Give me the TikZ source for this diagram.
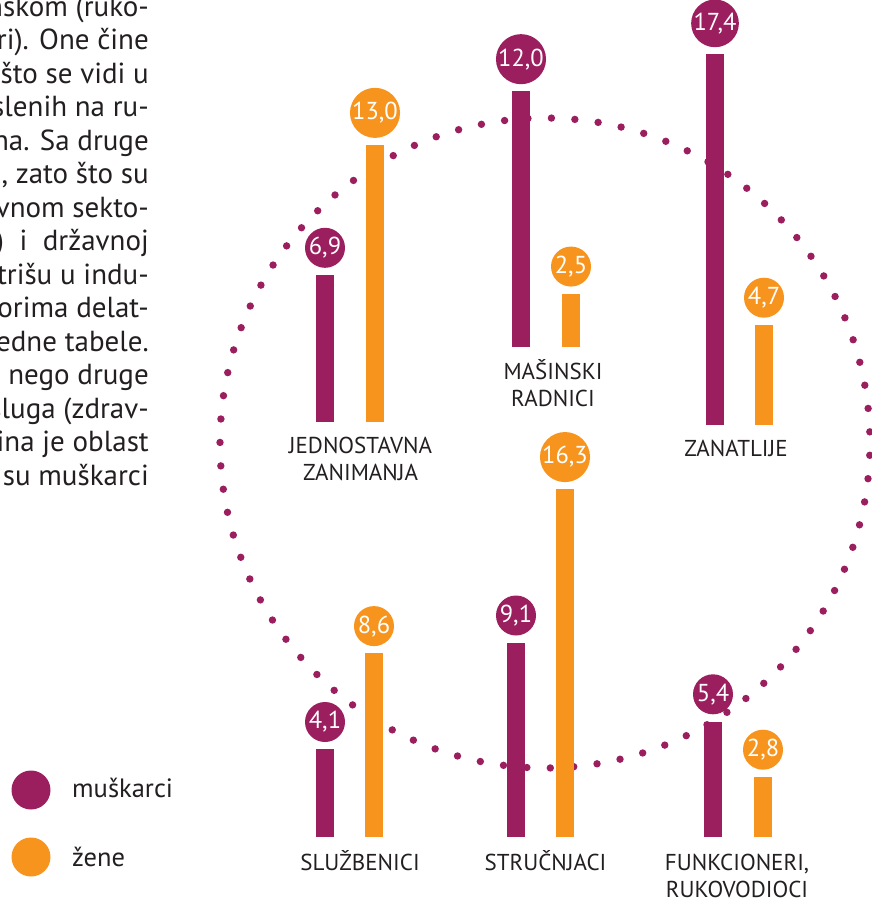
\documentclass[tikz,border=0pt]{standalone}
\usepackage{fontspec}
\setmainfont{PT Sans}
\usetikzlibrary{positioning,calc}
\definecolor{mpurple}{HTML}{9B1E5E}
\definecolor{morange}{HTML}{F7941E}
\definecolor{mtext}{HTML}{231F20}
\begin{document}
\begin{tikzpicture}[x=1pt,y=-1pt,
  mbar/.style={fill=mpurple, draw=none, minimum width=18pt, inner sep=0pt, outer sep=0pt, anchor=south},
  obar/.style={fill=morange, draw=none, minimum width=18pt, inner sep=0pt, outer sep=0pt, anchor=south},
  mval/.style={circle, fill=mpurple, text=white, minimum size=40pt, inner sep=0pt, font=\fontsize{24.5}{24.5}\selectfont},
  oval/.style={circle, fill=morange, text=white, minimum size=40pt, inner sep=0pt, font=\fontsize{24.5}{24.5}\selectfont},
  catlabel/.style={text=mtext, anchor=base, inner sep=0pt, font=\fontsize{23}{27}\selectfont},
  paraline/.style={text=mtext, anchor=base east, inner sep=0pt, font=\fontsize{29}{33.5}\selectfont},
  legdot/.style={circle, minimum size=39pt, inner sep=0pt},
  legtext/.style={text=mtext, anchor=base west, inner sep=0pt, font=\fontsize{26.5}{26.5}\selectfont},
  ringdot/.style={fill=mpurple}
]
\useasboundingbox (0,0) rectangle (872,900);

% paragraph (cut at the left edge)
\node[paraline] (p1) at (149,16) {nskom (ruko-};
\node[paraline] (p2) at (149,49.5) {ri). One čine};
\node[paraline] (p3) at (149,83) {što se vidi u};
\node[paraline] (p4) at (149,116.5) {slenih na ru-};
\node[paraline] (p5) at (149,150) {na. Sa druge};
\node[paraline] (p6) at (149,183.5) {, zato što su};
\node[paraline] (p7) at (149,217) {vnom sekto-};
\node[paraline] (p8) at (149,250.5) {)\ \ i\ \ državnoj};
\node[paraline] (p9) at (149,284) {trišu u indu-};
\node[paraline] (p10) at (149,317.5) {torima delat-};
\node[paraline] (p11) at (149,351) {edne tabele.};
\node[paraline] (p12) at (149,384.5) {nego druge};
\node[paraline] (p13) at (149,418) {sluga (zdrav-};
\node[paraline] (p14) at (149,451.5) {ina je oblast};
\node[paraline] (p15) at (149,485) {su muškarci};

% dotted ring
\coordinate (ctr) at (545,443);
\foreach \k in {0,...,86} {
  \fill[ringdot] ($(ctr)+(-93.2+\k*4.1379:325pt)$) circle (3.7pt);
}

% JEDNOSTAVNA ZANIMANJA
\node[mbar, minimum height=147pt] (jm) at (325,422) {};
\node[obar, minimum height=276.9pt] (jo) at (375,422) {};
\node[mval, above=7pt of jm] (jmv) {6,9};
\node[oval, above=7pt of jo] (jov) {13,0};
\node[catlabel] (jl1) at (360.5,453) {JEDNOSTAVNA};
\node[catlabel] (jl2) at (360.5,480) {ZANIMANJA};

% MASINSKI RADNICI
\node[mbar, minimum height=255.6pt] (mm) at (521,347) {};
\node[obar, minimum height=53.25pt] (mo) at (571,347) {};
\node[mval, above=7pt of mm] (mmv) {12,0};
\node[oval, above=7pt of mo] (mov) {2,5};
\node[catlabel] (ml1) at (553,379) {MAŠINSKI};
\node[catlabel] (ml2) at (553,406) {RADNICI};

% ZANATLIJE
\node[mbar, minimum height=370.6pt] (zm) at (715,425) {};
\node[obar, minimum height=100.1pt] (zo) at (764,425) {};
\node[mval, above=7pt of zm] (zmv) {17,4};
\node[oval, above=7pt of zo] (zov) {4,7};
\node[catlabel] (zl1) at (736,456) {ZANATLIJE};

% SLUZBENICI
\node[mbar, minimum height=87.3pt] (sm) at (325,836.5) {};
\node[obar, minimum height=183.2pt] (so) at (374,836.5) {};
\node[mval, above=7pt of sm] (smv) {4,1};
\node[oval, above=7pt of so] (sov) {8,6};
\node[catlabel] (sl1) at (360,870) {SLUŽBENICI};

% STRUCNJACI
\node[mbar, minimum height=193.8pt] (tm) at (516,836.5) {};
\node[obar, minimum height=347.2pt] (to) at (565,836.5) {};
\node[mval, above=7pt of tm] (tmv) {9,1};
\node[oval, above=7pt of to] (tov) {16,3};
\node[catlabel] (tl1) at (545.5,870) {STRUČNJACI};

% FUNKCIONERI, RUKOVODIOCI
\node[mbar, minimum height=115pt] (fm) at (713,836.5) {};
\node[obar, minimum height=59.6pt] (fo) at (763,836.5) {};
\node[mval, above=7pt of fm] (fmv) {5,4};
\node[oval, above=7pt of fo] (fov) {2,8};
\node[catlabel] (fl1) at (737,870) {FUNKCIONERI,};
\node[catlabel] (fl2) at (737,897) {RUKOVODIOCI};

% legend
\node[legdot, fill=mpurple] (lm) at (31,790) {};
\node[legtext] (lmt) at (72,797) {muškarci};
\node[legdot, fill=morange] (lo) at (31,857) {};
\node[legtext] (lot) at (72,866) {žene};
\end{tikzpicture}
\end{document}
